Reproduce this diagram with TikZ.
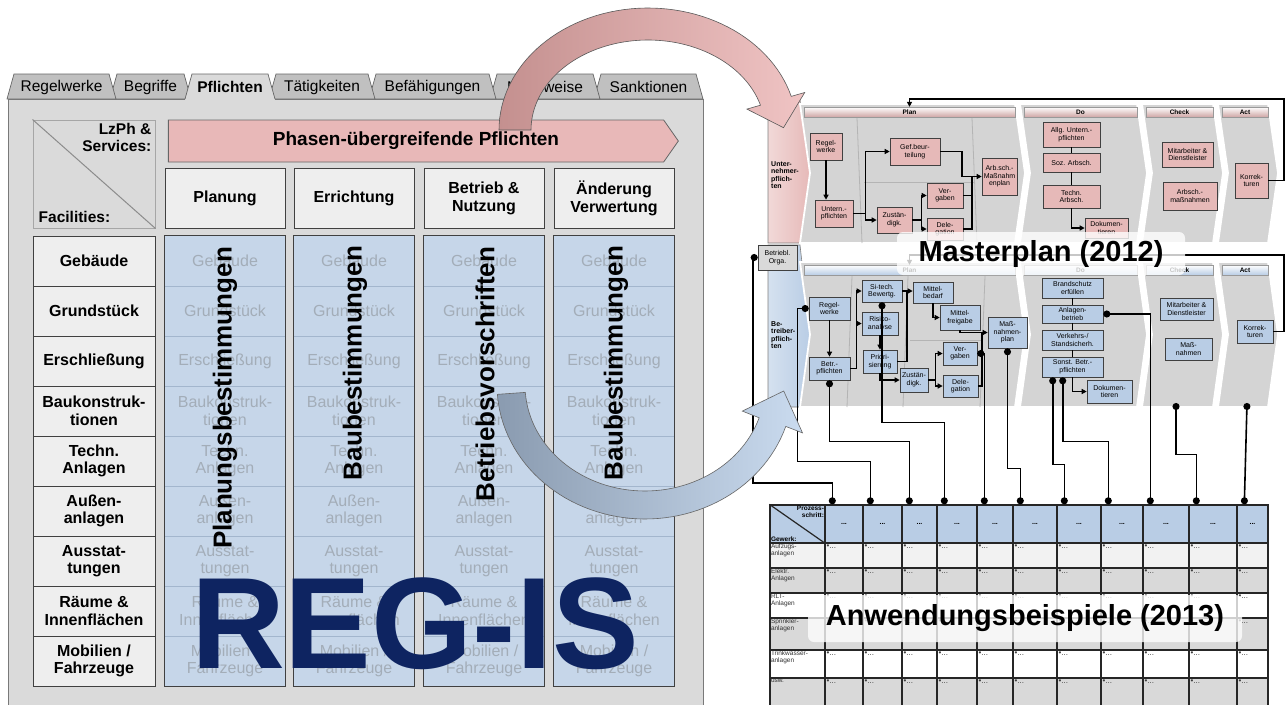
\documentclass[tikz,border=0pt]{standalone}
\usepackage{fontspec}
\setmainfont{Liberation Sans}
\usetikzlibrary{arrows.meta, positioning, calc, shadows, shapes.symbols}

\definecolor{regPanel}{HTML}{DADADA}
\definecolor{regTab}{HTML}{C0C0C0}
\definecolor{regCell}{HTML}{EEEEEE}
\definecolor{regLine}{HTML}{404040}
\definecolor{regBlue}{HTML}{C6D6E9}
\definecolor{regBlueLine}{HTML}{A3B6CD}
\definecolor{regFaint}{HTML}{A3ADB8}
\definecolor{regPink}{HTML}{E8B8B8}
\definecolor{regNavy}{HTML}{0E2461}
\definecolor{mpPink}{HTML}{E6B9B8}
\definecolor{mpBlue}{HTML}{B9CDE5}
\definecolor{mpGrey}{HTML}{D4D4D4}
\definecolor{mpLane}{HTML}{B4B4B4}
\definecolor{tbGrey}{HTML}{D9D9D9}
\definecolor{tbLight}{HTML}{F2F2F2}
\definecolor{arrPinkDark}{HTML}{C4908F}
\definecolor{arrPinkLight}{HTML}{F0C4C4}
\definecolor{arrBlueDark}{HTML}{8A9BB0}
\definecolor{arrBlueLight}{HTML}{CADBEF}

\tikzset{
    tab shape/.style={draw=regLine!80, fill=regTab, line width=0.7pt},
    tab label/.style={font=\fontsize{15.5}{16}\selectfont, inner sep=0pt},
    facility cell/.style={rectangle, draw=regLine, fill=regCell, line width=1pt, minimum width=122pt, minimum height=50pt, align=center, font=\bfseries\fontsize{16}{17.5}\selectfont, inner sep=1pt},
    phase head/.style={rectangle, draw=regLine, fill=regCell, line width=1pt, minimum width=120pt, minimum height=60pt, align=center, font=\bfseries\fontsize{16}{18}\selectfont},
    rule column/.style={rectangle, fill=regBlue, minimum width=120pt, minimum height=450pt, inner sep=0pt},
    faint label/.style={align=center, text=regFaint, font=\fontsize{16}{17.5}\selectfont, inner sep=1pt},
    rule text/.style={rotate=90, font=\bfseries\fontsize{26}{26}\selectfont, inner sep=0pt},
    mp box/.style={rectangle, draw=black!75, line width=0.6pt, align=center, font=\fontsize{7}{7.5}\selectfont, inner sep=0.5pt, drop shadow={shadow xshift=1.2pt, shadow yshift=-1.2pt, opacity=0.35}},
    mp pink/.style={mp box, fill=mpPink},
    mp blue/.style={mp box, fill=mpBlue},
    mp line/.style={draw=black, line width=1.6pt},
    mp arrow/.style={mp line, -{Triangle[length=5pt, width=5pt]}},
    tap line/.style={draw=black, line width=1.6pt, {Circle[length=7pt]}-{Circle[length=7pt]}},
    chevron/.style={fill=mpGrey, draw=white, line width=1.8pt},
    lane/.style={draw=mpLane, line width=0.8pt},
    hd band/.style={rectangle, minimum height=10pt, inner sep=0pt, font=\bfseries\fontsize{6.5}{6.5}\selectfont, draw=black!40, line width=0.3pt},
    bar text/.style={anchor=west, align=left, font=\bfseries\fontsize{7}{7.5}\selectfont, inner sep=0pt},
    tb cell/.style={rectangle, draw=black!85, line width=1.4pt, inner sep=0pt},
    tb dots/.style={anchor=north west, font=\fontsize{8}{8}\selectfont, inner sep=2pt, text=black!75},
    tb label/.style={anchor=north west, align=left, font=\fontsize{6.5}{7}\selectfont, inner sep=1.5pt, text=black!80},
    caption box/.style={rectangle, rounded corners=6pt, fill=white, fill opacity=0.78, text opacity=1, font=\bfseries\fontsize{29}{30}\selectfont},
}

\def\regfacilities{Gebäude, Grundstück, Erschließung, {Baukonstruk-\\tionen}, {Techn.\\Anlagen}, {Außen-\\anlagen}, {Ausstat-\\tungen}, {Räume \&\\Innenflächen}, {Mobilien /\\Fahrzeuge}}

\begin{document}
\begin{tikzpicture}[x=1pt, y=-1pt]
\fill[white] (0,0) rectangle (1287,704);
\useasboundingbox (0,0) rectangle (1287,704);

% REG-IS panel with tabs
\path[fill=regPanel, draw=regLine!70, line width=0.8pt] (8,99) rectangle (703,712);
\foreach \xa/\xb/\lab [count=\k] in {597/700/Sanktionen, 493/597/Nachweise, 372/493/Befähigungen, 272/372/Tätigkeiten, 113/188/Begriffe, 10/113/Regelwerke} {
    \path[tab shape] (\xa-3,99) -- (\xa+4,74) -- (\xb-4,74) -- (\xb+3,99) -- cycle;
    \node[tab label] (tab\k) at ({(\xa+\xb)/2},87) {\lab};
}
\fill[regPanel] (185,100) -- (192,74) -- (268,74) -- (275,100) -- cycle;
\draw[regLine!80, line width=0.7pt] (185,99) -- (192,74) -- (268,74) -- (275,99);
\node[tab label, font=\bfseries\fontsize{15.5}{16}\selectfont] (tabActive) at (230,87) {Pflichten};

% corner and phase headers
\node[draw=black!35, fill=regPanel, line width=1pt, minimum width=122pt, minimum height=108pt] (corner) at (94,174) {};
\draw[black!45, line width=1pt] (corner.north west) -- (corner.south east);
\node[anchor=north east, align=right, font=\bfseries\fontsize{15.5}{17}\selectfont, inner sep=0pt] (lzph) at ([xshift=-4pt, yshift=-4pt]corner.north east) {LzPh \&\\Services:};
\node[anchor=south west, font=\bfseries\fontsize{15.5}{17}\selectfont, inner sep=0pt] (facil) at ([xshift=6pt, yshift=6pt]corner.south west) {Facilities:};
\node[signal, signal to=east, signal pointer angle=110, draw=regLine!80, fill=regPink, line width=0.8pt, minimum width=510pt, minimum height=42pt, font=\bfseries\fontsize{19}{20}\selectfont] (phaseBar) at (416,141) {Phasen-übergreifende Pflichten};
\foreach \xa/\lab [count=\k] in {165/Planung, 294/Errichtung, 424/{Betrieb \&\\Nutzung}, 554/{Änderung\\Verwertung}}
    \node[phase head] (ph\k) at (\xa+60,198) {\lab};

% facilities and rule columns
\foreach \lab [count=\r] in \regfacilities
    \node[facility cell] (fac\r) at (94,{211+50*\r}) {\lab};
\foreach \xa [count=\k] in {165,294,424,554} {
    \node[rule column] (col\k) at (\xa+60,461) {};
    \foreach \r in {1,...,8}
        \draw[regBlueLine, line width=0.8pt] (\xa,{236+50*\r}) -- (\xa+120,{236+50*\r});
    \foreach \lab [count=\r] in \regfacilities
        \node[faint label] (fnt\k-\r) at (\xa+60,{211+50*\r}) {\lab};
    \draw[regLine, line width=1pt] (col\k.north west) rectangle (col\k.south east);
}
\node[rule text] (ruleA) at (225,398) {Planungsbestimmungen};
\node[rule text] (ruleB) at (355,363) {Baubestimmungen};
\node[rule text] (ruleC) at (485,374) {Betriebsvorschriften};
\node[rule text] (ruleD) at (616,363) {Baubestimmungen};
\node[font=\bfseries\fontsize{130}{130}\selectfont, text=regNavy, inner sep=0pt] (regis) at (415,624) {REG-IS};

% masterplan: chevrons
\path[left color=mpPink!55, right color=mpPink, draw=black!50, line width=0.6pt] (768,100) -- (800,100) -- (810,172) -- (800,243) -- (768,243) -- cycle;
\path[left color=mpBlue!60, right color=mpBlue, draw=black!50, line width=0.6pt] (768,245) -- (800,245) -- (810,334) -- (800,407) -- (768,407) -- cycle;
\node[bar text] (uBar) at (771,175) {Unter-\\nehmer-\\pflich-\\ten};
\node[bar text] (bBar) at (771,335) {Be-\\treiber-\\pflich-\\ten};
\foreach \xl/\xr/\nm in {800/1015/Plan, 1020/1137/Do, 1142/1213/Check, 1218/1268/Act} {
    \path[chevron] (\xl,104) -- (\xr,104) -- (\xr+10,173) -- (\xr,243) -- (\xl,243) -- (\xl+10,173) -- cycle;
    \node[hd band, top color=white, bottom color=mpPink!90!black, minimum width={(\xr-\xl-4)*1pt}] (uHd\nm) at ({(\xl+\xr)/2+2},112) {\nm};
    \path[chevron] (\xl,262) -- (\xr,262) -- (\xr+10,334.5) -- (\xr,407) -- (\xl,407) -- (\xl+10,334.5) -- cycle;
    \node[hd band, top color=white, bottom color=mpBlue, minimum width={(\xr-\xl-4)*1pt}] (bHd\nm) at ({(\xl+\xr)/2+2},270) {\nm};
}
\draw[lane] (857,118) -- (862,243);
\draw[lane] (972,118) -- (977,243);
\draw[lane] (864,182) -- (974,182);
\draw[lane] (852,276) -- (847,407);
\draw[lane] (908,276) -- (903,407);
\draw[lane] (985,276) -- (980,407);
\draw[lane] (910,340) -- (983,340);

% Unternehmerpflichten
\node[mp pink, minimum width=32pt, minimum height=27pt] (uRegel) at (826,146.5) {Regel-\\werke};
\node[mp pink, minimum width=38pt, minimum height=27pt] (uPfl) at (834,213.5) {Untern.-\\pflichten};
\node[mp pink, minimum width=50pt, minimum height=27pt] (uGef) at (915,151.5) {Gef.beur-\\teilung};
\node[mp pink, minimum width=35pt, minimum height=26pt] (uZust) at (894.5,220) {Zustän-\\digk.};
\node[mp pink, minimum width=36pt, minimum height=25pt] (uVerg) at (945,195.5) {Ver-\\gaben};
\node[mp pink, minimum width=36pt, minimum height=22pt] (uDeleg) at (945,229) {Dele-\\gation};
\node[mp pink, minimum width=35pt, minimum height=37pt] (uArb) at (999.5,176.5) {Arb.sch.-\\Maßnahm\\enplan};
\node[mp pink, minimum width=57pt, minimum height=25pt] (uAllg) at (1071.5,134.5) {Allg. Untern.-\\pflichten};
\node[mp pink, minimum width=57pt, minimum height=19pt] (uSoz) at (1071.5,162.5) {Soz. Arbsch.};
\node[mp pink, minimum width=57pt, minimum height=23pt] (uTech) at (1071.5,196.5) {Techn.\\Arbsch.};
\node[mp pink, minimum width=43pt, minimum height=20pt] (uDoku) at (1106.5,228) {Dokumen-\\tieren};
\node[mp pink, minimum width=51pt, minimum height=25pt] (uMit) at (1187.5,154.5) {Mitarbeiter \&\\Dienstleister};
\node[mp pink, minimum width=54pt, minimum height=28pt] (uMass) at (1190,196) {Arbsch.-\\maßnahmen};
\node[mp pink, minimum width=33pt, minimum height=35pt] (uKorr) at (1251.5,180.5) {Korrek-\\turen};

\draw[mp arrow] (uRegel.south) -- (uRegel.south |- uPfl.north);
\draw[mp line] (uPfl.east) -- ++(12,0) coordinate (jU);
\draw[mp arrow] (jU) |- (uGef.west);
\draw[mp arrow] (jU) |- (uZust.west);
\draw[mp line] (uZust.east) -- ++(9,0) coordinate (jZ);
\draw[mp arrow] (jZ) |- (uVerg.west);
\draw[mp arrow] (jZ) |- (uDeleg.west);
\coordinate (jG) at (962,176.5);
\coordinate (jA) at (972,176.5);
\draw[mp arrow] (uGef.east) -| (jG) -- (uArb.west);
\draw[mp line] (uVerg.east) -| (jA);
\draw[mp line] (uDeleg.east) -| (jA);
\draw[mp line] (uAllg.south) -- (uSoz.north);
\draw[mp line] (uSoz.south) -- (uTech.north);
\draw[mp arrow] (uTech.south) |- (uDoku.west);
\coordinate (fbTopR) at (1284,99);
\draw[mp arrow] (uKorr.east) -| (fbTopR) -| (uHdPlan.north);

% Betreiberpflichten
\node[mp box, fill=tbGrey, minimum width=39pt, minimum height=25pt] (bOrga) at (777.5,257.5) {Betriebl.\\Orga.};
\node[mp blue, minimum width=41pt, minimum height=23pt] (bRegel) at (829.5,308.5) {Regel-\\werke};
\node[mp blue, minimum width=41pt, minimum height=23pt] (bPfl) at (829.5,368.5) {Betr.-\\pflichten};
\node[mp blue, minimum width=40pt, minimum height=22pt] (bSitech) at (882,291) {Si-tech.\\Bewertg.};
\node[mp blue, minimum width=36pt, minimum height=23pt] (bRisiko) at (880,323.5) {Risiko-\\analyse};
\node[mp blue, minimum width=34pt, minimum height=23pt] (bPrio) at (880,361.5) {Priori-\\sierung};
\node[mp blue, minimum width=28pt, minimum height=24pt] (bZust) at (914,380) {Zustän-\\digk.};
\node[mp blue, minimum width=40pt, minimum height=21pt] (bMbed) at (933,292.5) {Mittel-\\bedarf};
\node[mp blue, minimum width=40pt, minimum height=25pt] (bMfrei) at (960,317.5) {Mittel-\\freigabe};
\node[mp blue, minimum width=34pt, minimum height=23pt] (bVerg) at (960,353.5) {Ver-\\gaben};
\node[mp blue, minimum width=35pt, minimum height=22pt] (bDeleg) at (960.5,386) {Dele-\\gation};
\node[mp blue, minimum width=39pt, minimum height=31pt] (bMplan) at (1007.5,332.5) {Maß-\\nahmen-\\plan};
\node[mp blue, minimum width=61pt, minimum height=20pt] (bBrand) at (1072.5,288) {Brandschutz\\erfüllen};
\node[mp blue, minimum width=61pt, minimum height=18pt] (bAnl) at (1072.5,314) {Anlagen-\\betrieb};
\node[mp blue, minimum width=61pt, minimum height=20pt] (bVerk) at (1072.5,340) {Verkehrs-/\\Standsicherh.};
\node[mp blue, minimum width=61pt, minimum height=20pt] (bSonst) at (1072.5,367) {Sonst. Betr.-\\pflichten};
\node[mp blue, minimum width=45pt, minimum height=23pt] (bDoku) at (1109.5,391.5) {Dokumen-\\tieren};
\node[mp blue, minimum width=53pt, minimum height=22pt] (bMit) at (1186.5,309) {Mitarbeiter \&\\Dienstleister};
\node[mp blue, minimum width=47pt, minimum height=22pt] (bMass) at (1188.5,349) {Maß-\\nahmen};
\node[mp blue, minimum width=36pt, minimum height=23pt] (bKorr) at (1255,331.5) {Korrek-\\turen};

\draw[mp arrow] (bRegel.south) -- (bPfl.north);
\draw[mp line] (bPfl.east) -- ++(6,0) coordinate (jB);
\draw[mp arrow] (jB) |- (bSitech.west);
\draw[mp arrow] (jB) |- (bRisiko.west);
\draw[mp arrow] (bSitech.east) -- (bSitech.east -| bMbed.west);
\coordinate (jS) at (907,291);
\draw[mp line] (bPrio.east) -| (jS);
\draw[mp arrow] (bRisiko.south) -- (bPrio.north);
\draw[mp arrow] (bPrio.south) |- (bZust.west);
\draw[mp line] (bZust.east) -- ++(7,0) coordinate (jZb);
\draw[mp arrow] (jZb) |- (bVerg.west);
\draw[mp arrow] (jZb) |- (bDeleg.west);
\draw[mp arrow] (bMbed.south) |- (bMfrei.west);
\draw[mp arrow] (bMfrei.south) |- (bMplan.west);
\coordinate (jM) at (982,332.5);
\draw[mp line] (bVerg.east) -| (jM);
\draw[mp line] (bDeleg.east) -| (jM);
\draw[mp line] (bBrand.south) -- (bAnl.north);
\draw[mp line] (bAnl.south) -- (bVerk.north);
\draw[mp line] (bVerk.south) -- (bSonst.north);
\draw[mp arrow] (bSonst.south) |- (bDoku.west);
\coordinate (fbBotR) at (1284,255);
\draw[mp arrow] (bKorr.east) -| (fbBotR) -| (bHdPlan.north);
\coordinate (cCheck) at (1176,403);
\coordinate (cAct) at (1247,403);

% Anwendungsbeispiele table
\node[tb cell, fill=mpBlue, minimum width=55pt, minimum height=38pt] (tbCorner) at (797.5,524) {};
\draw[black!85, line width=1.2pt] (tbCorner.north west) -- (tbCorner.south east);
\node[anchor=north east, align=right, font=\bfseries\fontsize{6.5}{7}\selectfont, inner sep=1.5pt] (tbProz) at (tbCorner.north east) {Prozess-\\schritt:};
\node[anchor=south west, font=\bfseries\fontsize{6.5}{7}\selectfont, inner sep=1.5pt] (tbGew) at (tbCorner.south west) {Gewerk:};
\foreach \xa/\xb [count=\i] in {825/863, 863/902, 902/937, 937/977, 977/1013, 1013/1057, 1057/1101, 1101/1143, 1143/1189, 1189/1237, 1237/1268} {
    \node[tb cell, fill=mpBlue, minimum width={(\xb-\xa)*1pt}, minimum height=38pt, font=\bfseries\fontsize{7}{7}\selectfont] (h\i) at ({(\xa+\xb)/2},524) {...};
    \coordinate (t\i) at ([xshift=8pt]h\i.north west);
}
\foreach \ya/\yb/\fc/\lab [count=\r] in {543/568/tbLight/{Aufzugs-\\anlagen}, 568/593/tbGrey/{Elektr.\\Anlagen}, 593/618/white/{RLT-\\Anlagen}, 618/650/tbGrey/{Sprinkler-\\anlagen}, 650/678/white/{Trinkwasser-\\anlagen}, 678/708/tbGrey/usw.} {
    \node[tb cell, fill=\fc, minimum width=55pt, minimum height={(\yb-\ya)*1pt}] (rw\r) at (797.5,{(\ya+\yb)/2}) {};
    \node[tb label] (rwt\r) at (rw\r.north west) {\lab};
    \foreach \xa/\xb [count=\i] in {825/863, 863/902, 902/937, 937/977, 977/1013, 1013/1057, 1057/1101, 1101/1143, 1143/1189, 1189/1237, 1237/1268} {
        \node[tb cell, fill=\fc, minimum width={(\xb-\xa)*1pt}, minimum height={(\yb-\ya)*1pt}] (c\r-\i) at ({(\xa+\xb)/2},{(\ya+\yb)/2}) {};
        \node[tb dots] (d\r-\i) at (c\r-\i.north west) {•...};
    }
}

% process steps to table
\draw[tap line] (bOrga.west) -- ++(-5,0) -- ++(0,225.5) -| (t1);
\draw[tap line] (bRegel.west) -| ($(t2)+(-73,-43)$) -| (t2);
\draw[tap line] (bPfl.south) |- ($(t3)+(0,-63)$) -- (t3);
\draw[tap line] (bSitech.south) |- ($(t4)+(0,-82)$) -- (t4);
\draw[tap line] (bVerg.east) -| (t5);
\draw[tap line] (bMplan.south) |- ($(t6)+(0,-36)$) -- (t6);
\draw[tap line] ([xshift=11pt]bSonst.south west) |- ($(t7)+(0,-40)$) -- (t7);
\draw[tap line] ([xshift=21pt]bSonst.south west) |- ($(t8)+(0,-63)$) -- (t8);
\draw[tap line] (bAnl.east) -| (t9);
\draw[tap line] (cCheck) |- ($(t10)+(0,-50)$) -- (t10);
\draw[tap line] (cAct) -- (t11);

% captions
\node[caption box, minimum width=288pt, minimum height=43pt] (capMaster) at (1041,253.5) {Masterplan (2012)};
\node[caption box, minimum width=434pt, minimum height=47pt] (capExample) at (1025,618.5) {Anwendungsbeispiele (2013)};

% big arrows
\shadedraw[left color=arrPinkDark, right color=arrPinkLight, draw=black!65, line width=0.6pt]
    plot[domain=180:344, samples=60] ({648+149*cos(\x)}, {130+122*sin(\x)})
    -- (804.7,92.5) -- (783.5,127.7) -- (746.9,109.1)
    -- plot[domain=344:180, samples=60] ({648+117*cos(\x)}, {130+90*sin(\x)}) -- cycle;
\shadedraw[left color=arrBlueDark, right color=arrBlueLight, draw=black!60, line width=0.6pt]
    plot[domain=176:18, samples=60] ({645+148*cos(\x)}, {385+134*sin(\x)})
    -- (802.5,432.9) -- (783.7,391) -- (742.3,411.1)
    -- plot[domain=18:176, samples=60] ({645+120*cos(\x)}, {385+106*sin(\x)}) -- cycle;
\end{tikzpicture}
\end{document}
